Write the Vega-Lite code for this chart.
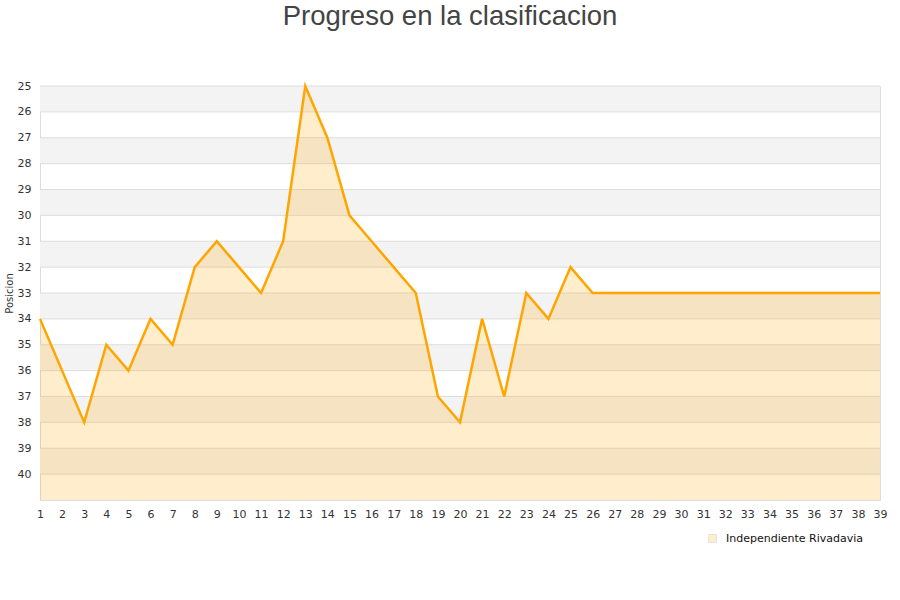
{
  "$schema": "https://vega.github.io/schema/vega-lite/v6.json",
  "width": 840,
  "height": 414,
  "autosize": {"type": "none"},
  "padding": {"left": 40, "top": 86, "right": 20, "bottom": 100},
  "background": "white",
  "title": {
    "text": "Progreso en la clasificacion",
    "font": "Liberation Sans",
    "fontSize": 27.5,
    "fontWeight": "normal",
    "color": "#444444",
    "anchor": "middle",
    "dx": -10,
    "offset": 50
  },
  "config": {
    "view": {"stroke": "#dddddd", "strokeWidth": 1},
    "axis": {
      "labelFont": "DejaVu Sans",
      "labelFontSize": 11,
      "labelColor": "#333333",
      "titleFont": "DejaVu Sans",
      "titleFontSize": 10,
      "titleFontWeight": "normal",
      "titleColor": "#333333",
      "ticks": false,
      "domain": false,
      "grid": false,
      "labelOverlap": false,
      "labelBound": false,
      "tickCount": 100,
      "format": "d"
    }
  },
  "datasets": {
    "serie": [
      {"jornada": 1, "pos": 34, "equipo": "Independiente Rivadavia"},
      {"jornada": 2, "pos": 36, "equipo": "Independiente Rivadavia"},
      {"jornada": 3, "pos": 38, "equipo": "Independiente Rivadavia"},
      {"jornada": 4, "pos": 35, "equipo": "Independiente Rivadavia"},
      {"jornada": 5, "pos": 36, "equipo": "Independiente Rivadavia"},
      {"jornada": 6, "pos": 34, "equipo": "Independiente Rivadavia"},
      {"jornada": 7, "pos": 35, "equipo": "Independiente Rivadavia"},
      {"jornada": 8, "pos": 32, "equipo": "Independiente Rivadavia"},
      {"jornada": 9, "pos": 31, "equipo": "Independiente Rivadavia"},
      {"jornada": 10, "pos": 32, "equipo": "Independiente Rivadavia"},
      {"jornada": 11, "pos": 33, "equipo": "Independiente Rivadavia"},
      {"jornada": 12, "pos": 31, "equipo": "Independiente Rivadavia"},
      {"jornada": 13, "pos": 25, "equipo": "Independiente Rivadavia"},
      {"jornada": 14, "pos": 27, "equipo": "Independiente Rivadavia"},
      {"jornada": 15, "pos": 30, "equipo": "Independiente Rivadavia"},
      {"jornada": 16, "pos": 31, "equipo": "Independiente Rivadavia"},
      {"jornada": 17, "pos": 32, "equipo": "Independiente Rivadavia"},
      {"jornada": 18, "pos": 33, "equipo": "Independiente Rivadavia"},
      {"jornada": 19, "pos": 37, "equipo": "Independiente Rivadavia"},
      {"jornada": 20, "pos": 38, "equipo": "Independiente Rivadavia"},
      {"jornada": 21, "pos": 34, "equipo": "Independiente Rivadavia"},
      {"jornada": 22, "pos": 37, "equipo": "Independiente Rivadavia"},
      {"jornada": 23, "pos": 33, "equipo": "Independiente Rivadavia"},
      {"jornada": 24, "pos": 34, "equipo": "Independiente Rivadavia"},
      {"jornada": 25, "pos": 32, "equipo": "Independiente Rivadavia"},
      {"jornada": 26, "pos": 33, "equipo": "Independiente Rivadavia"},
      {"jornada": 27, "pos": 33, "equipo": "Independiente Rivadavia"},
      {"jornada": 28, "pos": 33, "equipo": "Independiente Rivadavia"},
      {"jornada": 29, "pos": 33, "equipo": "Independiente Rivadavia"},
      {"jornada": 30, "pos": 33, "equipo": "Independiente Rivadavia"},
      {"jornada": 31, "pos": 33, "equipo": "Independiente Rivadavia"},
      {"jornada": 32, "pos": 33, "equipo": "Independiente Rivadavia"},
      {"jornada": 33, "pos": 33, "equipo": "Independiente Rivadavia"},
      {"jornada": 34, "pos": 33, "equipo": "Independiente Rivadavia"},
      {"jornada": 35, "pos": 33, "equipo": "Independiente Rivadavia"},
      {"jornada": 36, "pos": 33, "equipo": "Independiente Rivadavia"},
      {"jornada": 37, "pos": 33, "equipo": "Independiente Rivadavia"},
      {"jornada": 38, "pos": 33, "equipo": "Independiente Rivadavia"},
      {"jornada": 39, "pos": 33, "equipo": "Independiente Rivadavia"}
    ],
    "bandas": [
      {"desde": 25, "hasta": 26},
      {"desde": 27, "hasta": 28},
      {"desde": 29, "hasta": 30},
      {"desde": 31, "hasta": 32},
      {"desde": 33, "hasta": 34},
      {"desde": 35, "hasta": 36},
      {"desde": 37, "hasta": 38},
      {"desde": 39, "hasta": 40}
    ],
    "lineas": [
      {"nivel": 25}, {"nivel": 26}, {"nivel": 27}, {"nivel": 28}, {"nivel": 29},
      {"nivel": 30}, {"nivel": 31}, {"nivel": 32}, {"nivel": 33}, {"nivel": 34},
      {"nivel": 35}, {"nivel": 36}, {"nivel": 37}, {"nivel": 38}, {"nivel": 39},
      {"nivel": 40}
    ]
  },
  "layer": [
    {
      "data": {"name": "bandas"},
      "mark": {"type": "rect", "color": "#f3f3f3"},
      "encoding": {
        "y": {
          "field": "desde", "type": "quantitative",
          "scale": {"domain": [25, 41], "reverse": true, "nice": false, "zero": false},
          "axis": {"title": "Posicion", "values": [25,26,27,28,29,30,31,32,33,34,35,36,37,38,39,40], "tickCount": 100, "format": "d", "labelPadding": 9, "titlePadding": 3, "labelOverlap": false}
        },
        "y2": {"field": "hasta"}
      }
    },
    {
      "data": {"name": "lineas"},
      "mark": {"type": "rule", "color": "#dddddd", "strokeWidth": 1},
      "encoding": {
        "y": {"field": "nivel", "type": "quantitative"}
      }
    },
    {
      "data": {"name": "serie"},
      "mark": {"type": "area", "opacity": 0.2, "interpolate": "linear"},
      "encoding": {
        "x": {
          "field": "jornada", "type": "quantitative",
          "scale": {"domain": [1, 39], "nice": false, "zero": false},
          "axis": {"title": null, "values": [1,2,3,4,5,6,7,8,9,10,11,12,13,14,15,16,17,18,19,20,21,22,23,24,25,26,27,28,29,30,31,32,33,34,35,36,37,38,39], "tickCount": 100, "format": "d", "labelPadding": 8, "labelFlush": false, "labelOverlap": false}
        },
        "y": {"field": "pos", "type": "quantitative"},
        "y2": {"datum": 41},
        "color": {
          "field": "equipo", "type": "nominal",
          "scale": {"range": ["#ffa500"]},
          "legend": {
            "title": null,
            "orient": "none",
            "legendX": 667,
            "legendY": 447,
            "symbolType": "square",
            "symbolSize": 64,
            "symbolStrokeColor": "#777777",
            "symbolStrokeWidth": 1,
            "labelOffset": 8,
            "labelFont": "DejaVu Sans",
            "labelFontSize": 11,
            "labelColor": "#111111",
            "encode": {
              "symbols": {"update": {"stroke": {"value": "#777777"}, "strokeWidth": {"value": 1}, "opacity": {"value": 1}, "fillOpacity": {"value": 0.3}, "strokeOpacity": {"value": 1}}}
            }
          }
        }
      }
    },
    {
      "data": {"name": "serie"},
      "mark": {"type": "line", "color": "#ffa500", "strokeWidth": 2.5, "interpolate": "linear"},
      "encoding": {
        "x": {"field": "jornada", "type": "quantitative"},
        "y": {"field": "pos", "type": "quantitative"}
      }
    }
  ]
}
